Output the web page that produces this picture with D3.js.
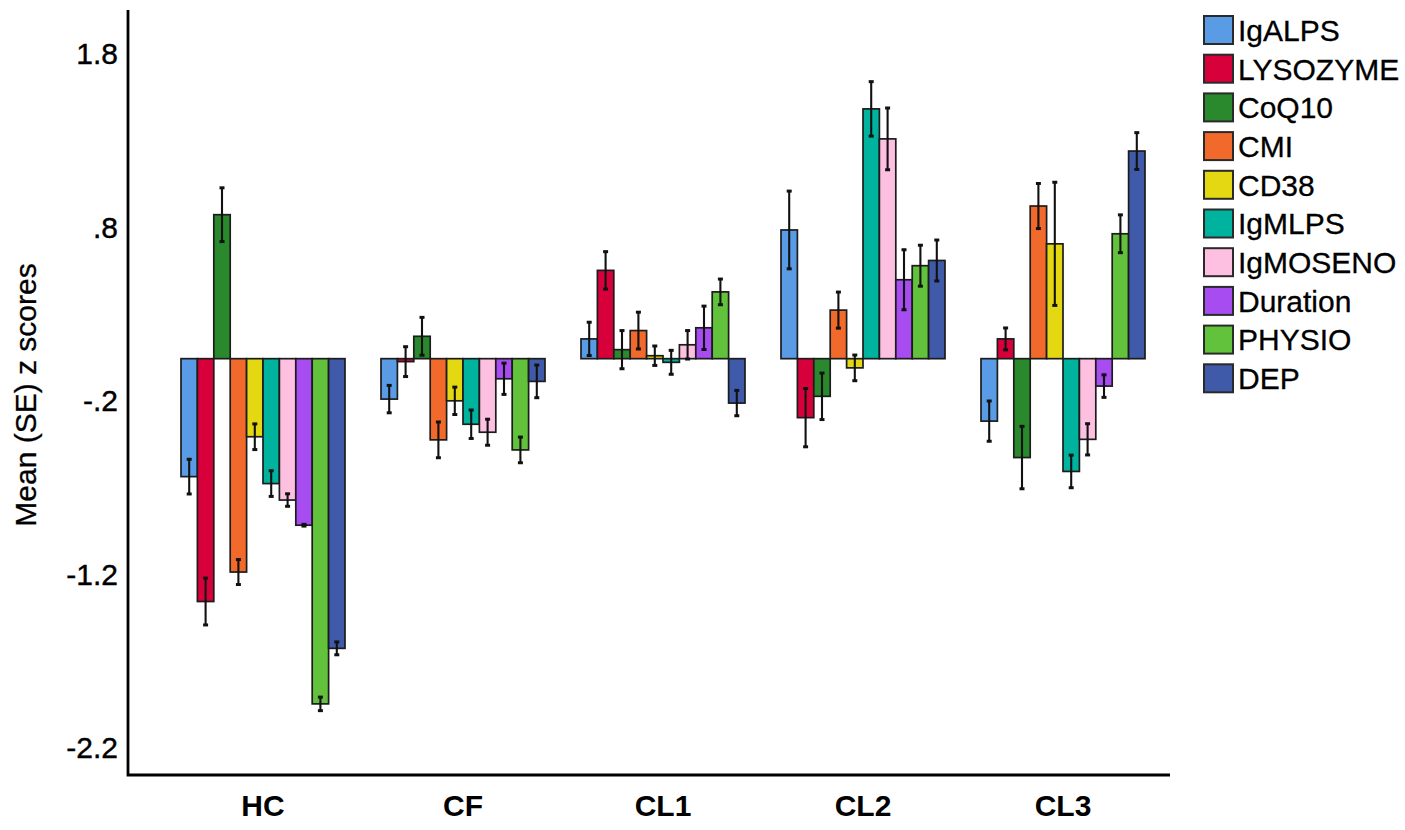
<!DOCTYPE html>
<html>
<head>
<meta charset="utf-8">
<script src="https://cdn.jsdelivr.net/npm/d3@7"></script>
<style>
  body { margin: 0; background: #fff; }
  svg text { font-family: "Liberation Sans", Arial, sans-serif; fill: #000; }
</style>
</head>
<body>
<svg id="chart"></svg>
<script>
// groups on the x axis and the ten measures in each group
const groups = ['HC', 'CF', 'CL1', 'CL2', 'CL3']
const measures = ['IgALPS', 'LYSOZYME', 'CoQ10', 'CMI', 'CD38', 'IgMLPS', 'IgMOSENO', 'Duration', 'PHYSIO', 'DEP']
const colors = ['#5a9be6', '#d8003a', '#2b892d', '#f26a2b', '#e4d812', '#00b39f', '#fdc0e0', '#a64cf0', '#63c23b', '#3e5aa8']

// mean z scores, one array per group (measure order as above)
const hcMeans = [-0.68, -1.40, 0.83, -1.23, -0.45, -0.72, -0.815, -0.96, -1.99, -1.67]
const cfMeans = [-0.233, -0.017, 0.129, -0.468, -0.243, -0.378, -0.424, -0.116, -0.526, -0.131]
const cl1Means = [0.114, 0.509, 0.052, 0.162, 0.017, -0.021, 0.08, 0.178, 0.385, -0.256]
const cl2Means = [0.742, -0.34, -0.217, 0.28, -0.053, 1.44, 1.267, 0.455, 0.536, 0.566]
const cl3Means = [-0.36, 0.114, -0.57, 0.88, 0.662, -0.65, -0.465, -0.158, 0.72, 1.197]

// standard errors
const hcSE = [0.10, 0.135, 0.155, 0.072, 0.074, 0.074, 0.036, 0.005, 0.039, 0.037]
const cfSE = [0.079, 0.086, 0.109, 0.103, 0.079, 0.082, 0.075, 0.09, 0.074, 0.094]
const cl1SE = [0.096, 0.108, 0.11, 0.106, 0.056, 0.069, 0.082, 0.125, 0.074, 0.073]
const cl2SE = [0.224, 0.168, 0.134, 0.104, 0.074, 0.157, 0.178, 0.173, 0.118, 0.118]
const cl3SE = [0.116, 0.063, 0.18, 0.13, 0.355, 0.094, 0.09, 0.065, 0.109, 0.106]

const yTicks = [1.8, 0.8, -0.2, -1.2, -2.2]
const tickLabels = ['1.8', '.8', '-.2', '-1.2', '-2.2']

const allMeans = [hcMeans, cfMeans, cl1Means, cl2Means, cl3Means]
const allSE = [hcSE, cfSE, cl1SE, cl2SE, cl3SE]

const rows = []
groups.forEach((g, gi) => {
    measures.forEach((m, mi) => {
        rows.push({ group: g, measure: m, mean: allMeans[gi][mi], se: allSE[gi][mi], color: colors[mi] })
    })
})

const width = 1405
const height = 830
const axisLeftX = 128
const axisBottomY = 775

const svg = d3.select('#chart')
    .attr('width', width)
    .attr('height', height)

const y = d3.scaleLinear()
    .domain([-2.4, 2.01])
    .range([axisBottomY, 10])

const x0 = d3.scaleBand()
    .domain(groups)
    .range([163, 1163])
    .paddingInner(0.18)
    .paddingOuter(0.09)

const x1 = d3.scaleBand()
    .domain(measures)
    .range([0, x0.bandwidth()])

// bars
svg.append('g')
    .selectAll('rect')
    .data(rows)
    .join('rect')
    .attr('x', d => x0(d.group) + x1(d.measure))
    .attr('width', x1.bandwidth())
    .attr('y', d => y(Math.max(0, d.mean)))
    .attr('height', d => Math.abs(y(d.mean) - y(0)))
    .attr('fill', d => d.color)
    .attr('stroke', '#1c1c1c')
    .attr('stroke-width', 1.7)

// error bars
const err = svg.append('g')
    .attr('stroke', '#111')
    .selectAll('g')
    .data(rows)
    .join('g')
    .attr('transform', d => `translate(${x0(d.group) + x1(d.measure) + x1.bandwidth() / 2},0)`)

err.append('line')
    .attr('y1', d => y(d.mean + d.se))
    .attr('y2', d => y(d.mean - d.se))
    .attr('stroke-width', 2.1)

err.selectAll('.cap')
    .data(d => [d.mean + d.se, d.mean - d.se])
    .join('line')
    .attr('class', 'cap')
    .attr('x1', -2.5)
    .attr('x2', 2.5)
    .attr('y1', v => y(v))
    .attr('y2', v => y(v))
    .attr('stroke-width', 3)

// y axis
const yAxis = svg.append('g')
    .attr('transform', `translate(${axisLeftX},0)`)
    .call(d3.axisLeft(y).tickValues(yTicks).tickSize(0).tickPadding(10)
        .tickFormat((d, i) => tickLabels[i]))

yAxis.select('.domain').remove()
yAxis.selectAll('text')
    .attr('font-size', 30)
    .attr('dy', '0.58em')
    .attr('stroke', '#000')
    .attr('stroke-width', 0.4)
    .style('font-family', '"Liberation Sans", Arial, sans-serif')

// x axis labels
const xAxis = svg.append('g')
    .attr('transform', `translate(0,${axisBottomY})`)
    .call(d3.axisBottom(x0).tickSize(0).tickPadding(20))

xAxis.select('.domain').remove()
xAxis.selectAll('text')
    .attr('font-size', 30)
    .attr('font-weight', 'bold')
    .style('font-family', '"Liberation Sans", Arial, sans-serif')

// axis lines
svg.append('path')
    .attr('d', `M${axisLeftX},10 V${axisBottomY} H1170`)
    .attr('fill', 'none')
    .attr('stroke', '#000')
    .attr('stroke-width', 2.8)

// y title
svg.append('text')
    .attr('transform', 'translate(36,395) rotate(-90)')
    .attr('text-anchor', 'middle')
    .attr('font-size', 30)
    .attr('stroke', '#000')
    .attr('stroke-width', 0.3)
    .text('Mean (SE) z scores')

// legend
const legend = svg.append('g')
    .attr('transform', 'translate(1204,16)')
    .selectAll('g')
    .data(measures)
    .join('g')
    .attr('transform', (d, i) => `translate(0,${i * 38.7})`)

legend.append('rect')
    .attr('width', 29)
    .attr('height', 28)
    .attr('fill', (d, i) => colors[i])
    .attr('stroke', '#2a2a2a')
    .attr('stroke-width', 2)

legend.append('text')
    .attr('x', 34)
    .attr('y', 14)
    .attr('dy', '0.36em')
    .attr('font-size', 30)
    .attr('stroke', '#000')
    .attr('stroke-width', 0.3)
    .text(d => d)
</script>
</body>
</html>
